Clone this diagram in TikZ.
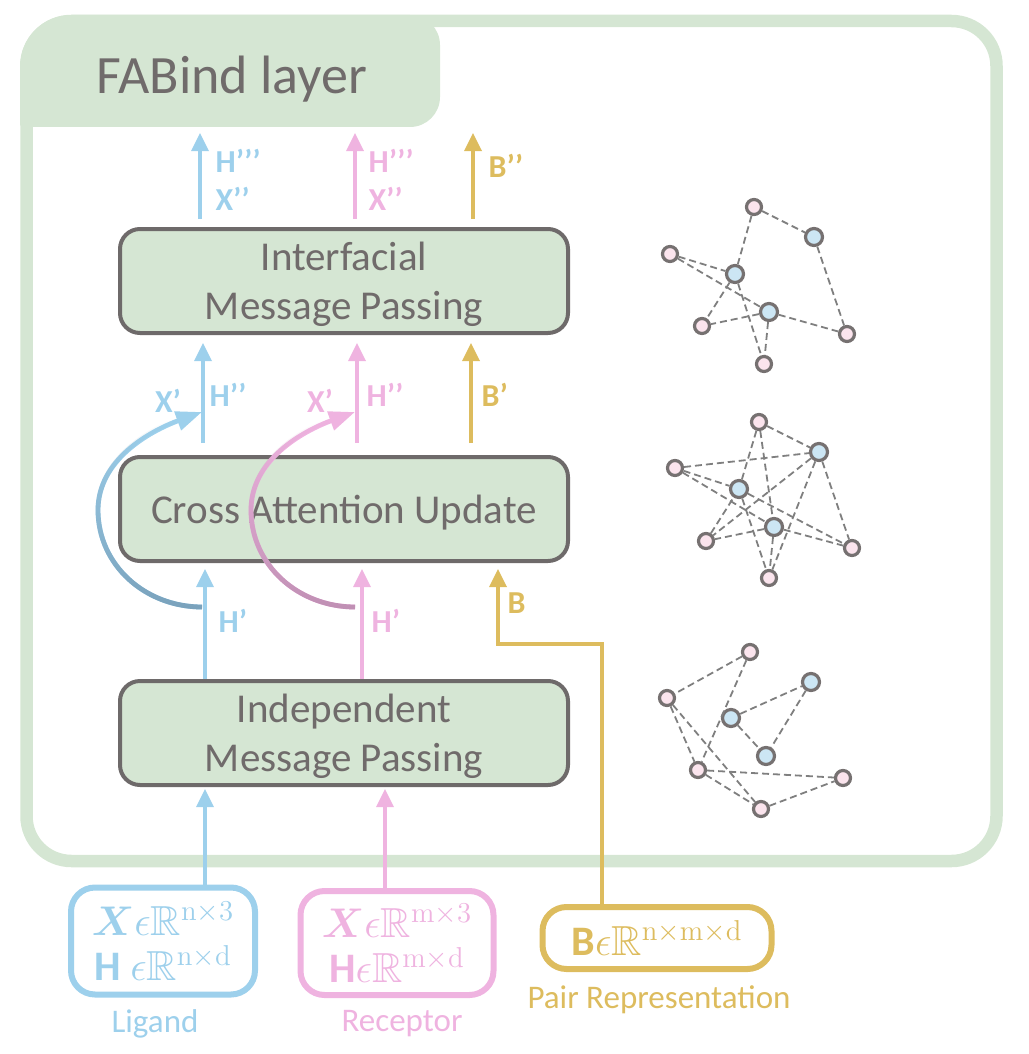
\documentclass[tikz,border=0pt]{standalone}
\usepackage[no-math]{fontspec}
\setmainfont{Carlito}
\usepackage{amsmath,amssymb,bm}
\usetikzlibrary{arrows.meta,positioning,fadings}

\definecolor{fabgreen}{HTML}{D5E6D3}
\definecolor{boxgray}{HTML}{6E6A6A}
\definecolor{txtgray}{HTML}{706B6B}
\definecolor{ligblue}{HTML}{9DD0EC}
\definecolor{recpink}{HTML}{EFB3E0}
\definecolor{pairgold}{HTML}{DDBC5E}
\definecolor{ligdark}{HTML}{7AA2BC}
\definecolor{recdark}{HTML}{C090B4}
\definecolor{nodepink}{HTML}{FBE4ED}
\definecolor{nodeblue}{HTML}{CCE6F4}
\definecolor{nodegray}{HTML}{767171}
\definecolor{edgegray}{HTML}{7F7F7F}

\tikzstyle{layerbox} = [draw=boxgray, fill=fabgreen, line width=2pt, rounded corners=10pt, minimum width=224pt, minimum height=52pt, align=center, text depth=0pt, text=txtgray, font=\fontsize{20.5}{24.5}\selectfont]
\tikzstyle{inbox} = [line width=3pt, rounded corners=12pt, fill=white, align=center, inner sep=0pt, font=\fontsize{21}{22.5}\selectfont]
\tikzstyle{ligarrow} = [ligblue, line width=1.7pt, -{Triangle[width=8.5pt,length=9pt]}]
\tikzstyle{recarrow} = [recpink, line width=1.7pt, -{Triangle[width=8.5pt,length=9pt]}]
\tikzstyle{pairarrow} = [pairgold, line width=1.7pt, -{Triangle[width=8.5pt,length=9pt]}]
\tikzstyle{liglabel} = [text=ligblue, font=\bfseries\fontsize{16}{19}\selectfont, inner sep=1pt]
\tikzstyle{reclabel} = [text=recpink, font=\bfseries\fontsize{16}{19}\selectfont, inner sep=1pt]
\tikzstyle{pairlabel} = [text=pairgold, font=\bfseries\fontsize{16}{19}\selectfont, inner sep=1pt]
\tikzstyle{caption} = [font=\fontsize{16.5}{20}\selectfont]
\tikzstyle{pnode} = [circle, draw=nodegray, line width=1.6pt, fill=nodepink, minimum size=7.5pt, inner sep=0pt]
\tikzstyle{bnode} = [circle, draw=nodegray, line width=1.6pt, fill=nodeblue, minimum size=8.5pt, inner sep=0pt]
\tikzstyle{link} = [draw=edgegray, dash pattern=on 3.5pt off 2pt, line width=0.9pt]

\tikzfading[name=fadeup, top color=transparent!100, middle color=transparent!70, bottom color=transparent!0]

\begin{document}
\begin{tikzpicture}[x=0.5pt, y=-0.5pt]
    \useasboundingbox (0,0) rectangle (1028,1054);

    % frame with its title tab
    \begin{scope}
        \clip[rounded corners=25.6pt] (20,15) rectangle (1003,867);
        \fill[fabgreen, rounded corners=15pt] (0,15) rectangle (440,127);
    \end{scope}
    \draw[fabgreen, line width=6.25pt, rounded corners=22.5pt] (26.5,21) rectangle (996.5,861);
    \node[font=\fontsize{27}{30}\selectfont, text=txtgray] (title) at (232,79) {FABind layer};

    % the three steps of the layer
    \node [layerbox] (indep) at (344,733) {Independent\\Message Passing};
    \node [layerbox, above=58pt of indep] (cross) {Cross Attention Update};
    \node [layerbox, above=60pt of cross] (interf) {Interfacial\\Message Passing};

    % inputs
    \node [inbox, draw=ligblue, text=ligblue, minimum width=92pt, minimum height=53.5pt] (lig) at (163,941) {$\boldsymbol{X}\epsilon\mathbb{R}^{\mathrm{n\times 3}}$\\\textbf{H} $\epsilon\mathbb{R}^{\mathrm{n\times d}}$};
    \node [inbox, draw=recpink, text=recpink, minimum width=96.5pt, minimum height=52pt] (rec) at (397,943) {$\boldsymbol{X}\epsilon\mathbb{R}^{\mathrm{m\times 3}}$\\\textbf{H}$\epsilon\mathbb{R}^{\mathrm{m\times d}}$};
    \node [inbox, draw=pairgold, text=pairgold, minimum width=114.5pt, minimum height=31pt] (pair) at (657,938) {\textbf{B}$\epsilon\mathbb{R}^{\mathrm{n\times m\times d}}$};
    \node [caption, text=ligblue] (ligname) at (155,1024) {Ligand};
    \node [caption, text=recpink] (recname) at (402,1024) {Receptor};
    \node [caption, text=pairgold] (pairname) at (659,1000) {Pair Representation};

    % columns of the three streams
    \coordinate (cL1) at (205,0);
    \coordinate (cL2) at (203,0);
    \coordinate (cL3) at (200,133);
    \coordinate (cR0) at (385,0);
    \coordinate (cR1) at (362,0);
    \coordinate (cR2) at (357,0);
    \coordinate (cR3) at (355,133);
    \coordinate (cP2) at (471,0);
    \coordinate (cP3) at (473,133);
    \coordinate (bturn) at (498,644);
    \coordinate (bdrop) at (602,644);

    \draw [ligarrow, shorten >=1pt] (cL1 |- lig.north) -- (cL1 |- indep.south);
    \draw [ligarrow, shorten >=3pt] (cL1 |- indep.north) -- node[liglabel, right=5pt] (hl1) {H’} (cL1 |- cross.south);
    \draw [ligarrow, shorten <=6pt, shorten >=4pt] (cL2 |- cross.north) -- node[liglabel, right=1.5pt] (hl2) {H’’} (cL2 |- interf.south);
    \draw [ligarrow, shorten <=4pt] (cL3 |- interf.north) -- node[liglabel, right=6pt, align=left] (hl3) {H’’’\\X’’} (cL3);

    \draw [recarrow, shorten >=1pt] (cR0 |- rec.north) -- (cR0 |- indep.south);
    \draw [recarrow, shorten >=3pt] (cR1 |- indep.north) -- node[reclabel, right=3pt] (hr1) {H’} (cR1 |- cross.south);
    \draw [recarrow, shorten <=6pt, shorten >=4pt] (cR2 |- cross.north) -- node[reclabel, right=3pt] (hr2) {H’’} (cR2 |- interf.south);
    \draw [recarrow, shorten <=4pt] (cR3 |- interf.north) -- node[reclabel, right=5pt, align=left] (hr3) {H’’’\\X’’} (cR3);

    \draw [pairarrow, shorten >=3pt] (bdrop |- pair.north) -- (bdrop) -- (bturn) -- node[pairlabel, right=3pt] (bp1) {B} (bturn |- cross.south);
    \draw [pairarrow, shorten <=6pt, shorten >=4pt] (cP2 |- cross.north) -- node[pairlabel, right=3.5pt] (bp2) {B’} (cP2 |- interf.south);
    \draw [pairarrow, shorten <=4pt] (cP3 |- interf.north) -- node[pairlabel, right=6pt, pos=0.65] (bp3) {B’’} (cP3);

    % coordinate updates that skip the attention block
    \coordinate (xls) at (202,607);
    \coordinate (xle) at (202,412);
    \coordinate (xrs) at (355,607);
    \coordinate (xre) at (355,412);
    \draw [ligblue, line width=2.4pt, -{Triangle[width=9.5pt,length=13pt]}] (xls) .. controls (145,607) and (98,565) .. (98,510) .. controls (98,460) and (150,431) .. (xle);
    \draw [ligdark, line width=2.4pt, path fading=fadeup] (xls) .. controls (145,607) and (98,565) .. (98,510) .. controls (98,460) and (150,429) .. (175,421);
    \draw [recpink, line width=2.4pt, -{Triangle[width=9.5pt,length=13pt]}] (xrs) .. controls (298,607) and (251,565) .. (251,510) .. controls (251,460) and (303,431) .. (xre);
    \draw [recdark, line width=2.4pt, path fading=fadeup] (xrs) .. controls (298,607) and (251,565) .. (251,510) .. controls (251,460) and (303,429) .. (328,421);
    \node [liglabel] (xl) at (168,401) {X’};
    \node [reclabel] (xr) at (320,401) {X’};

    % graph after independent message passing
    \node [pnode] (ba) at (750,652) {};
    \node [bnode] (bb) at (811,682) {};
    \node [pnode] (bc) at (667,698) {};
    \node [bnode] (bd) at (731,718) {};
    \node [bnode] (be) at (766,756) {};
    \node [pnode] (bf) at (698,770) {};
    \node [pnode] (bg) at (843,778) {};
    \node [pnode] (bh) at (761,809) {};
    \foreach \a/\b in {ba/bc, ba/bf, bc/bf, bc/bh, bd/bb, bd/be, bb/be, bf/bg, bf/bh, bh/bg}
        \draw [link] (\a) -- (\b);

    % graph after cross attention
    \node [pnode] (ma) at (759,422) {};
    \node [bnode] (mb) at (819,452) {};
    \node [pnode] (mc) at (675,468) {};
    \node [bnode] (md) at (739,489) {};
    \node [bnode] (me) at (774,527) {};
    \node [pnode] (mf) at (706,541) {};
    \node [pnode] (mg) at (852,548) {};
    \node [pnode] (mh) at (769,578) {};
    \foreach \a/\b in {ma/mb, ma/md, ma/me, mc/mb, mc/md, mc/me, md/mg, mb/mf, mb/mh, mb/mg, md/mh, me/mf, me/mh, mf/md, me/mg}
        \draw [link] (\a) -- (\b);

    % graph after interfacial message passing
    \node [pnode] (ta) at (754,207) {};
    \node [bnode] (tb) at (814,237) {};
    \node [pnode] (tc) at (670,254) {};
    \node [bnode] (td) at (735,274) {};
    \node [bnode] (te) at (769,312) {};
    \node [pnode] (tf) at (702,326) {};
    \node [pnode] (tg) at (847,334) {};
    \node [pnode] (th) at (764,364) {};
    \foreach \a/\b in {ta/tb, ta/td, tb/tg, tc/td, tc/te, td/tf, td/th, te/tf, te/tg, te/th}
        \draw [link] (\a) -- (\b);

\end{tikzpicture}
\end{document}
